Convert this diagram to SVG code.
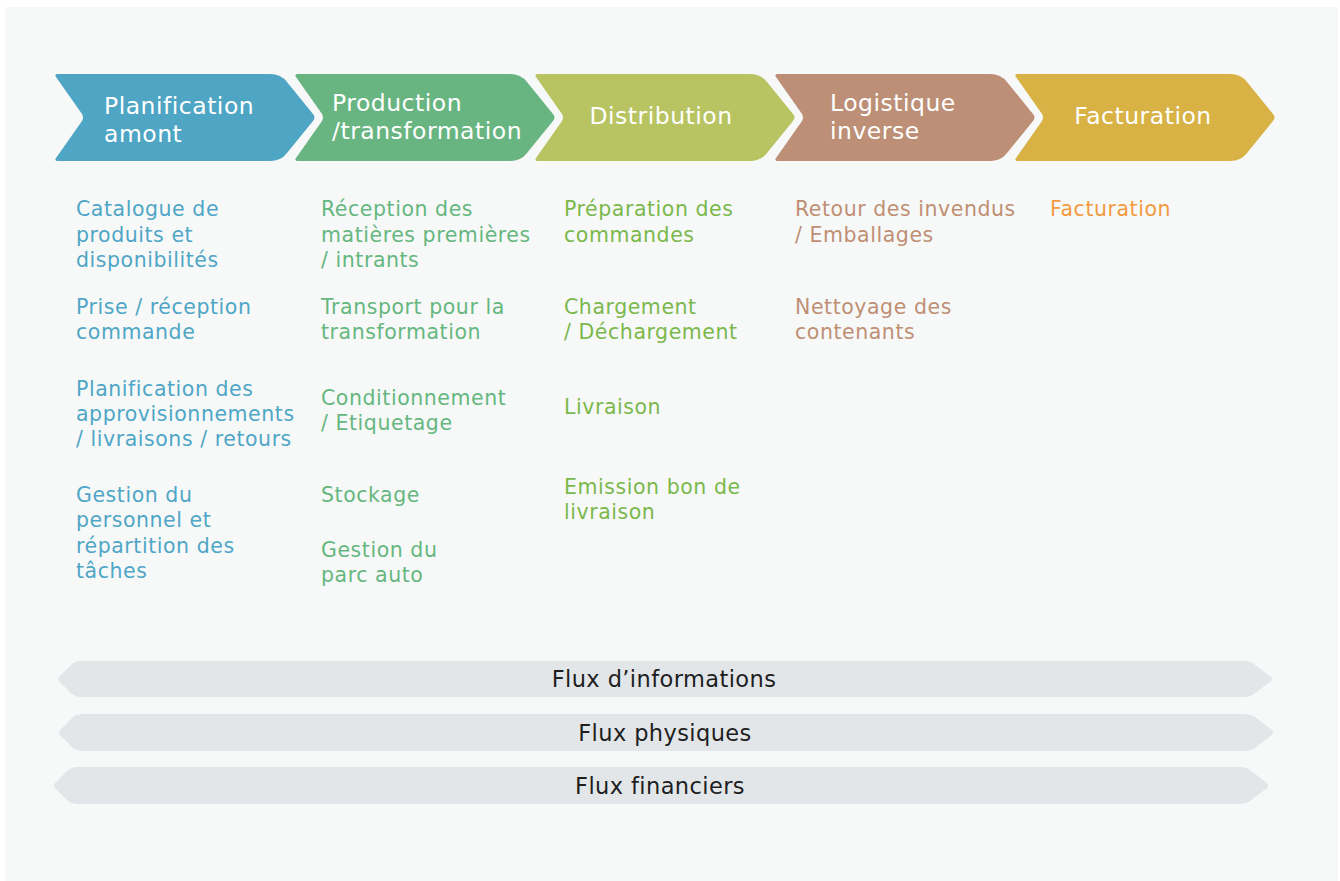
<svg xmlns="http://www.w3.org/2000/svg" width="1340" height="881" viewBox="0 0 1340 881">
<defs>
<style>
text{font-family:"DejaVu Sans","Liberation Sans",sans-serif;}
.hd{fill:#ffffff;font-size:23.5px;letter-spacing:0.5px;}
.it{font-size:20.5px;letter-spacing:0.55px;}
.c1{fill:#4fa6c6;}
.c2{fill:#66b77f;}
.c3{fill:#7bb84c;}
.c4{fill:#bf8f74;}
.c5{fill:#f39a41;}
.fl{fill:#1e1e1e;font-size:22.5px;letter-spacing:0.4px;text-anchor:middle;}
.bar{fill:#e2e6e9;}
</style>
<path id="chev" d="M3,74 L215,74 Q226,74 232,82 L258,114 Q261,117.5 258,121 L232,153 Q226,161 215,161 L3,161 Q-1,161 1,158 L27,121 Q29,117.5 27,114 L1,77 Q-1,74 3,74 Z"/>
</defs>
<rect x="0" y="0" width="1340" height="881" fill="#ffffff"/>
<rect x="5" y="7" width="1333" height="874" fill="#f7f9f9"/>

<g id="node-planification">
<use href="#chev" x="55" fill="#4fa5c4"/>
<text class="hd" x="104" y="114">Planification</text>
<text class="hd" x="104" y="142">amont</text>
</g>
<g id="node-production">
<use href="#chev" x="295" fill="#68b582"/>
<text class="hd" x="332" y="111">Production</text>
<text class="hd" x="332" y="139">/transformation</text>
</g>
<g id="node-distribution">
<use href="#chev" x="535" fill="#b8c462"/>
<text class="hd" x="661" y="124" text-anchor="middle">Distribution</text>
</g>
<g id="node-logistique">
<use href="#chev" x="775" fill="#bd8f76"/>
<text class="hd" x="830" y="111">Logistique</text>
<text class="hd" x="830" y="139">inverse</text>
</g>
<g id="node-facturation">
<use href="#chev" x="1015" fill="#d8b244"/>
<text class="hd" x="1143" y="124" text-anchor="middle">Facturation</text>
</g>

<g id="col-planification">
<text class="it c1" x="76" y="216">Catalogue de</text>
<text class="it c1" x="76" y="242">produits et</text>
<text class="it c1" x="76" y="267">disponibilités</text>
<text class="it c1" x="76" y="314">Prise / réception</text>
<text class="it c1" x="76" y="339">commande</text>
<text class="it c1" x="76" y="396">Planification des</text>
<text class="it c1" x="76" y="421">approvisionnements</text>
<text class="it c1" x="76" y="446">/ livraisons / retours</text>
<text class="it c1" x="76" y="502">Gestion du</text>
<text class="it c1" x="76" y="527">personnel et</text>
<text class="it c1" x="76" y="553">répartition des</text>
<text class="it c1" x="76" y="578">tâches</text>
</g>
<g id="col-production">
<text class="it c2" x="321" y="216">Réception des</text>
<text class="it c2" x="321" y="242">matières premières</text>
<text class="it c2" x="321" y="267">/ intrants</text>
<text class="it c2" x="321" y="314">Transport pour la</text>
<text class="it c2" x="321" y="339">transformation</text>
<text class="it c2" x="321" y="405">Conditionnement</text>
<text class="it c2" x="321" y="430">/ Etiquetage</text>
<text class="it c2" x="321" y="502">Stockage</text>
<text class="it c2" x="321" y="557">Gestion du</text>
<text class="it c2" x="321" y="582">parc auto</text>
</g>
<g id="col-distribution">
<text class="it c3" x="564" y="216">Préparation des</text>
<text class="it c3" x="564" y="242">commandes</text>
<text class="it c3" x="564" y="314">Chargement</text>
<text class="it c3" x="564" y="339">/ Déchargement</text>
<text class="it c3" x="564" y="414">Livraison</text>
<text class="it c3" x="564" y="494">Emission bon de</text>
<text class="it c3" x="564" y="519">livraison</text>
</g>
<g id="col-logistique">
<text class="it c4" x="795" y="216">Retour des invendus</text>
<text class="it c4" x="795" y="242">/ Emballages</text>
<text class="it c4" x="795" y="314">Nettoyage des</text>
<text class="it c4" x="795" y="339">contenants</text>
</g>
<g id="col-facturation">
<text class="it c5" x="1050" y="216">Facturation</text>
</g>

<g id="flux-informations">
<path class="bar" d="M80,661 L1245,661 Q1250,661 1254,664 L1271,677 Q1273,679 1271,681 L1254,694 Q1250,697 1245,697 L80,697 Q76,697 72,694 L59,681 Q57,679 59,677 L72,664 Q76,661 80,661 Z"/>
<text class="fl" x="664" y="687">Flux d’informations</text>
</g>
<g id="flux-physiques">
<path class="bar" d="M81,714 L1246,714 Q1251,714 1255,717 L1272,730 Q1274,732.5 1272,735 L1255,748 Q1251,751 1246,751 L81,751 Q77,751 73,748 L60,735 Q58,732.5 60,730 L73,717 Q77,714 81,714 Z"/>
<text class="fl" x="665" y="741">Flux physiques</text>
</g>
<g id="flux-financiers">
<path class="bar" d="M76,767 L1241,767 Q1246,767 1250,770 L1267,783 Q1269,785.5 1267,788 L1250,801 Q1246,804 1241,804 L76,804 Q72,804 68,801 L55,788 Q53,785.5 55,783 L68,770 Q72,767 76,767 Z"/>
<text class="fl" x="660" y="794">Flux financiers</text>
</g>
</svg>
